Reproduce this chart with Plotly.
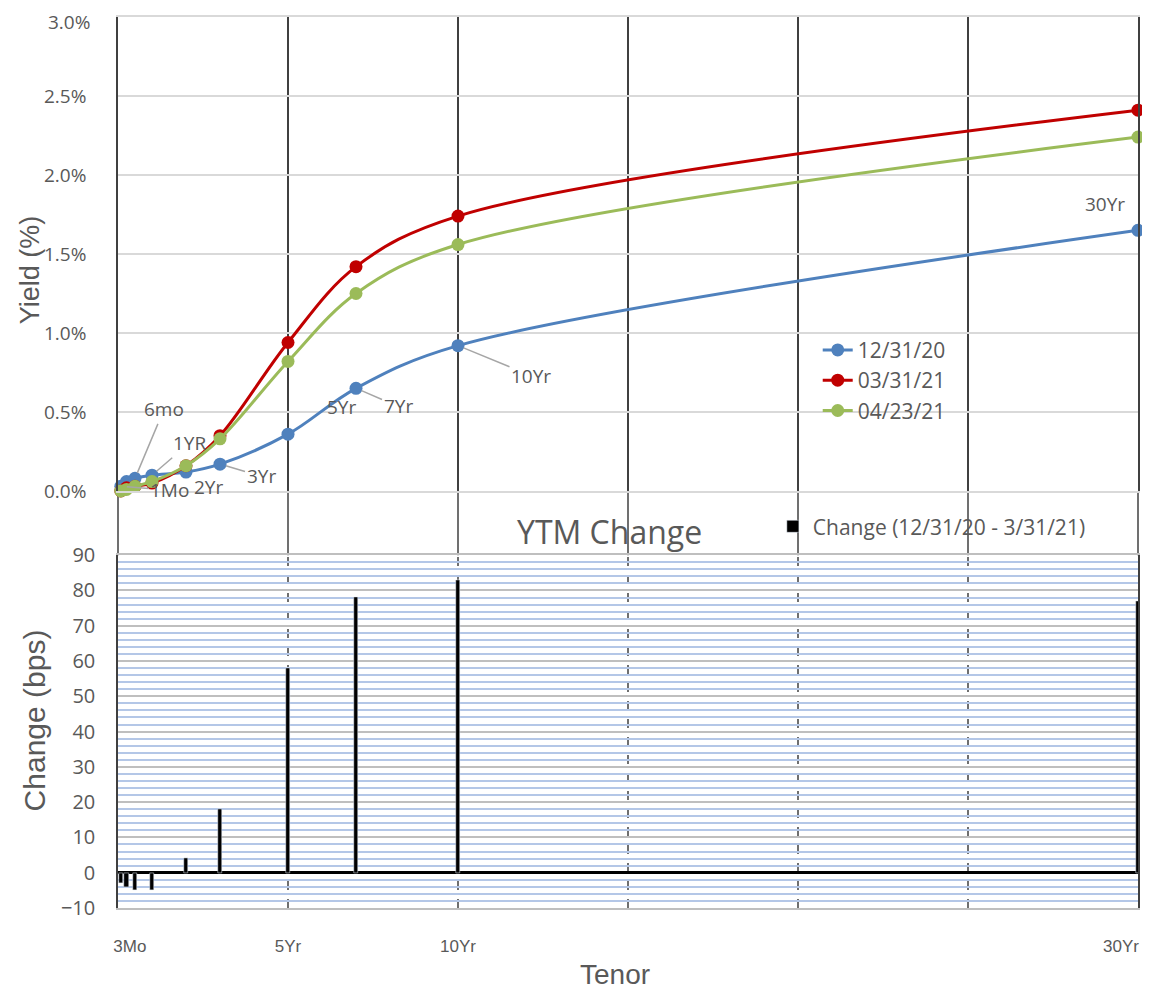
import plotly.graph_objects as go

tenor_labels = ["1Mo", "3Mo", "6mo", "1YR", "2Yr", "3Yr", "5Yr", "7Yr", "10Yr", "30Yr"]
tenors = [1/12, 0.25, 0.5, 1, 2, 3, 5, 7, 10, 30]
y_1231 = [0.03, 0.06, 0.08, 0.10, 0.12, 0.17, 0.36, 0.65, 0.92, 1.65]
y_0331 = [0.00, 0.02, 0.03, 0.05, 0.16, 0.35, 0.94, 1.42, 1.74, 2.41]
y_0423 = [0.00, 0.01, 0.03, 0.06, 0.16, 0.33, 0.82, 1.25, 1.56, 2.24]
change_bps = [-3, -4, -5, -5, 4, 18, 58, 78, 83, 77]

series_names = ["12/31/20", "03/31/21", "04/23/21"]
series_colors = ["#4f81bd", "#c00000", "#9bbb59"]

x_tickvals = [0.35, 5, 10, 29.5]
x_ticktext = ["3Mo", "5Yr", "10Yr", "30Yr"]
grid_x = [0, 5, 10, 15, 20, 25, 30]
X_MAX = 30
yield_ticks = [0.0, 0.5, 1.0, 1.5, 2.0, 2.5, 3.0]
Y_MAX = 3.0

GRAY = "#595959"
TICKFONT = "Open Sans, Noto Sans, sans-serif"
TITLEFONT = "Liberation Sans, Arial, sans-serif"

fig = go.Figure()
for name, vals, col in zip(series_names, [y_1231, y_0331, y_0423], series_colors):
    fig.add_trace(go.Scatter(
        x=tenors, y=vals, name=name, mode="lines+markers",
        line=dict(color=col, width=3, shape="spline", smoothing=1.0),
        marker=dict(color=col, size=13),
        cliponaxis=False, xaxis="x", yaxis="y", legend="legend"))

fig.add_trace(go.Bar(
    x=tenors, y=change_bps, width=0.12, marker_color="black",
    name="Change (12/31/20 - 3/31/21)", xaxis="x2", yaxis="y2",
    cliponaxis=False, legend="legend2"))

top_dom = [0.468, 1.0]
bot_dom = [0.0, 0.396]

shapes = []
for gx in grid_x:
    shapes.append(dict(type="line", xref="paper", yref="paper",
                       x0=gx / X_MAX, x1=gx / X_MAX,
                       y0=bot_dom[1], y1=top_dom[0],
                       line=dict(color="#404040", width=1.5), layer="below"))
    if 0 < gx < X_MAX:
        shapes.append(dict(type="line", xref="x2", yref="paper", x0=gx, x1=gx,
                           y0=bot_dom[0], y1=bot_dom[1],
                           line=dict(color="#404040", width=1.5, dash="dash"),
                           layer="below"))

ann_font = dict(family=TICKFONT, size=19, color=GRAY)
annotations = []
leader = [(2, y_1231, 29, -69), (3, y_1231, 37, -32), (0, y_1231, 49, 4),
          (5, y_1231, 41, 12), (7, y_1231, 42, 18), (8, y_1231, 73, 30)]
for i, vals, ax, ay in leader:
    annotations.append(dict(x=tenors[i], y=vals[i], xref="x", yref="y",
                            text=tenor_labels[i], showarrow=True, arrowhead=0,
                            arrowwidth=1.5, arrowcolor="#a6a6a6", ax=ax, ay=ay,
                            font=ann_font, standoff=6))
plain = [(4, y_1231, 22, -15), (6, y_1231, 53, 27), (9, y_1231, -33, 26)]
for i, vals, xs, ys in plain:
    annotations.append(dict(x=tenors[i], y=vals[i], xref="x", yref="y",
                            text=tenor_labels[i], showarrow=False,
                            xshift=xs, yshift=ys, font=ann_font))

# top tick label drawn as an annotation so it stays inside the page
yield_ticktext = ["%.1f%%" % v if v < Y_MAX else "" for v in yield_ticks]
annotations.append(dict(text="%.1f%%" % Y_MAX, xref="paper", yref="y",
                        x=0, y=Y_MAX, xanchor="right", yanchor="top",
                        xshift=-26, yshift=10, showarrow=False,
                        font=dict(family=TICKFONT, size=19, color=GRAY)))

annotations += [
    dict(text="YTM Change", xref="paper", yref="paper", x=0.482, y=0.423,
         xanchor="center", yanchor="middle", showarrow=False,
         font=dict(family=TICKFONT, size=32, color=GRAY)),
    dict(text="Yield (%)", xref="paper", yref="paper", x=-0.086, y=0.716,
         xanchor="center", yanchor="middle", textangle=-90, showarrow=False,
         font=dict(family=TITLEFONT, size=27, color=GRAY)),
    dict(text="Change (bps)", xref="paper", yref="paper", x=-0.081, y=0.211,
         xanchor="center", yanchor="middle", textangle=-90, showarrow=False,
         font=dict(family=TITLEFONT, size=30, color=GRAY)),
    dict(text="Tenor", xref="paper", yref="paper", x=0.487, y=-0.075,
         xanchor="center", yanchor="middle", showarrow=False,
         font=dict(family=TITLEFONT, size=28, color=GRAY)),
]

fig.update_layout(
    width=1142, height=985,
    margin=dict(l=110, r=12, t=9, b=85),
    plot_bgcolor="white", paper_bgcolor="white",
    bargap=0,
    xaxis=dict(domain=[0, 1], range=[0, X_MAX], anchor="y", tickvals=grid_x,
               showticklabels=False, showgrid=True, gridcolor="#404040",
               gridwidth=1.5, zeroline=False, automargin=False,
               showline=True, mirror=True, linecolor="#d9d9d9", linewidth=1.5),
    yaxis=dict(domain=top_dom, range=[0, Y_MAX], tickmode="array",
               tickvals=yield_ticks, ticktext=yield_ticktext,
               showgrid=True, gridcolor="#d9d9d9", gridwidth=1.5,
               zeroline=False, ticks="", ticklabelstandoff=26, automargin=False,
               showline=True, mirror=True, linecolor="#404040", linewidth=1.5,
               tickfont=dict(family=TICKFONT, size=19, color=GRAY)),
    xaxis2=dict(domain=[0, 1], range=[0, X_MAX], anchor="y2", tickmode="array",
                tickvals=x_tickvals, ticktext=x_ticktext, showgrid=False,
                zeroline=False, ticks="", ticklabelstandoff=22, automargin=False,
                ticklabeloverflow="allow",
                showline=True, mirror=True, linecolor="#bfbfbf", linewidth=2,
                tickfont=dict(family="Liberation Sans Narrow, Arial Narrow, sans-serif",
                              size=17, color=GRAY)),
    yaxis2=dict(domain=bot_dom, range=[-10, 90], dtick=10, anchor="x2",
                showgrid=True, gridcolor="#bfbfbf", gridwidth=2,
                minor=dict(dtick=2, showgrid=True, gridcolor="#b4c7e7", gridwidth=1.5),
                zeroline=True, zerolinecolor="black", zerolinewidth=3,
                showline=True, mirror=True, linecolor="#404040", linewidth=1.5,
                ticks="", ticklabelstandoff=17, automargin=False,
                tickfont=dict(family=TICKFONT, size=20, color=GRAY)),
    legend=dict(x=0.686, y=0.649, xanchor="left", yanchor="top",
                bgcolor="rgba(255,255,255,0)",
                font=dict(family=TICKFONT, size=21, color=GRAY)),
    legend2=dict(x=0.642, y=0.428, xanchor="left", yanchor="middle",
                 bgcolor="rgba(255,255,255,0)", itemwidth=30,
                 font=dict(family=TICKFONT, size=21, color=GRAY)),
    shapes=shapes,
    annotations=annotations,
)

fig.write_html("out.html")
